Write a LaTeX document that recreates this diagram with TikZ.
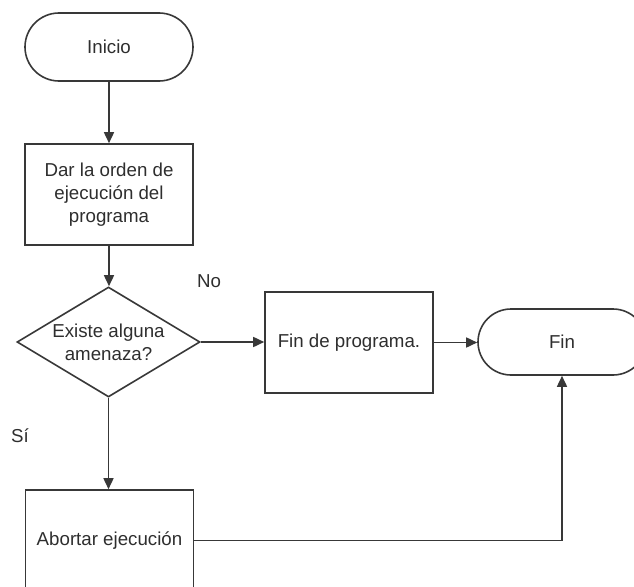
\documentclass[tikz,border=0pt]{standalone}
\usepackage{fontspec}
\setmainfont{Liberation Sans}
\usetikzlibrary{shapes.geometric,shapes.misc,arrows.meta}
\definecolor{ln}{HTML}{383838}
\definecolor{tx}{HTML}{2E2E2E}
\begin{document}
\begin{tikzpicture}[x=1pt,y=-1pt,
  every node/.style={text=tx,font=\fontsize{18.7}{23}\selectfont},
  term/.style={draw=ln,line width=1.6pt,rounded rectangle,minimum width=168pt,minimum height=68pt,inner sep=0pt},
  proc/.style={draw=ln,line width=1.6pt,rectangle,minimum width=168pt,minimum height=101pt,inner sep=0pt,align=center},
  decis/.style={draw=ln,line width=1.6pt,diamond,aspect=1.664,minimum width=183pt,minimum height=110pt,inner sep=0pt,align=center},
  conn/.style={draw=ln,line width=1.6pt,-{Triangle[length=11pt,width=10pt]}},
  lbl/.style={inner sep=0pt}
]
\useasboundingbox (0,0) rectangle (634,586);
\node[term] (ini) at (109,47) {Inicio};
\node[proc] (orden) at (109,194.5) {Dar la orden de\\ejecución del\\programa};
\node[decis] (dec) at (108.5,342) {Existe alguna\\amenaza?};
\node[proc] (finp) at (349,342.5) {Fin de programa.};
\node[term,minimum height=66pt] (fin) at (562,342) {Fin};
\node[proc] (abort) at (109.5,540.5) {Abortar ejecución};
\node[lbl] (no) at (209,281) {No};
\node[lbl] (si) at (20,436) {Sí};
\coordinate (corner) at (fin.south |- abort.east);
\draw[conn] (ini.south) -- (ini.south |- orden.north);
\draw[conn] (orden.south) -- (orden.south |- dec.north);
\draw[conn] (dec.east) -- (dec.east -| finp.west);
\draw[conn] (finp.east) -- (finp.east -| fin.west);
\draw[conn] (dec.south) -- (dec.south |- abort.north);
\draw[conn] (abort.east) -- (corner) -- (fin.south);
\end{tikzpicture}
\end{document}
